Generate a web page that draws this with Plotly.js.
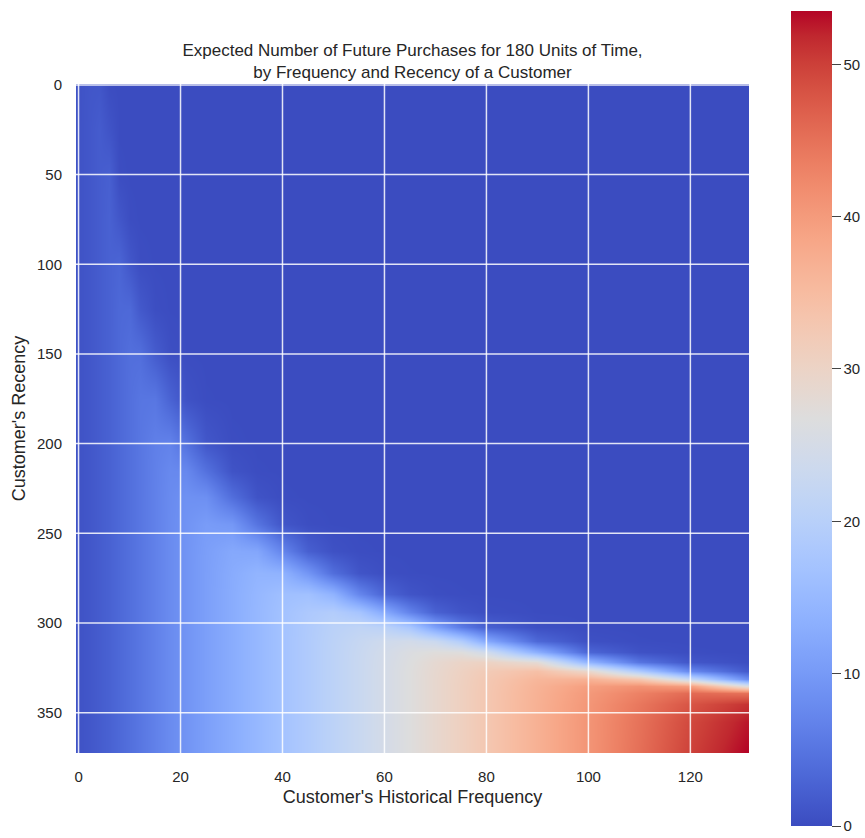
<!DOCTYPE html>
<html><head><meta charset="utf-8">
<script src="https://cdn.plot.ly/plotly-3.0.1.min.js"></script>
<style>html,body{margin:0;padding:0;background:#fff}</style>
</head><body>
<div id="chart" style="width:865px;height:838px"></div>
<script>
// Customer's historical frequency (columns) and recency (rows)
const frequency = [0,2,4,6,8,10,12,15,18,21,25,30,35,40,45,50,55,60,65,70,75,80,90,100,110,120,131];
const recency = [0,25,50,75,100,125,150,175,200,215,230,245,260,272,284,294,302,310,316,322,327,331,335,339,345,355,372];

// Expected number of future purchases: one array per frequency, values along recency
const expectedByFrequency = [
  [0.8,0.8,0.8,0.8,0.8,0.8,0.8,0.8,0.8,0.8,0.8,0.8,0.8,0.8,0.8,0.8,0.8,0.8,0.8,0.8,0.8,0.8,0.8,0.8,0.8,0.8,0.8],
  [1.2,1.3,1.3,1.3,1.3,1.3,1.3,1.3,1.3,1.3,1.3,1.3,1.3,1.3,1.3,1.3,1.3,1.3,1.3,1.3,1.3,1.3,1.3,1.3,1.3,1.3,1.3],
  [1.25,1.87,1.9,1.9,1.9,1.9,1.9,1.9,1.9,1.9,1.9,1.9,1.9,1.9,1.9,1.9,1.9,1.9,1.9,1.9,1.9,1.9,1.9,1.9,1.9,1.9,1.9],
  [0.09,0.94,2.31,2.54,2.56,2.56,2.56,2.56,2.56,2.56,2.56,2.56,2.56,2.56,2.56,2.56,2.56,2.56,2.56,2.56,2.56,2.56,2.56,2.56,2.56,2.56,2.56],
  [0,0.02,0.16,1.28,2.99,3.37,3.4,3.4,3.4,3.4,3.4,3.4,3.4,3.4,3.4,3.4,3.4,3.4,3.4,3.4,3.4,3.4,3.4,3.4,3.4,3.4,3.4],
  [0,0,0.02,0.17,1.24,3.44,4.21,4.31,4.32,4.32,4.32,4.32,4.32,4.32,4.32,4.32,4.32,4.32,4.32,4.32,4.32,4.32,4.32,4.32,4.32,4.32,4.32],
  [0,0,0,0.02,0.2,1.5,4.15,5.07,5.19,5.2,5.2,5.2,5.2,5.2,5.2,5.2,5.2,5.2,5.2,5.2,5.2,5.2,5.2,5.2,5.2,5.2,5.2],
  [0,0,0,0,0.03,0.26,1.87,5.19,6.36,6.48,6.53,6.53,6.53,6.53,6.53,6.53,6.53,6.53,6.53,6.53,6.53,6.53,6.53,6.53,6.53,6.53,6.53],
  [0,0,0,0,0,0.03,0.36,2.71,6.78,7.67,7.92,8,8,8,8,8,8,8,8,8,8,8,8,8,8,8,8],
  [0,0,0,0,0,0,0.06,0.7,4.6,7.53,8.77,9.1,9.2,9.2,9.2,9.2,9.2,9.2,9.2,9.2,9.2,9.2,9.2,9.2,9.2,9.2,9.2],
  [0,0,0,0,0,0,0,0.09,1.29,4.51,8.54,10.3,10.7,10.8,10.8,10.8,10.8,10.8,10.8,10.8,10.8,10.8,10.8,10.8,10.8,10.8,10.8],
  [0,0,0,0,0,0,0,0,0.14,0.86,4.11,9.66,12.2,12.66,12.8,12.8,12.8,12.8,12.8,12.8,12.8,12.8,12.8,12.8,12.8,12.8,12.8],
  [0,0,0,0,0,0,0,0,0.01,0.11,0.86,4.93,11.84,14.13,14.67,14.8,14.8,14.8,14.8,14.8,14.8,14.8,14.8,14.8,14.8,14.8,14.8],
  [0,0,0,0,0,0,0,0,0,0.01,0.13,1.19,7.14,13.78,16.21,16.67,16.8,16.8,16.8,16.8,16.8,16.8,16.8,16.8,16.8,16.8,16.8],
  [0,0,0,0,0,0,0,0,0,0,0.02,0.22,2.29,9.4,16.5,18.3,18.7,18.8,18.8,18.8,18.8,18.8,18.8,18.8,18.8,18.8,18.8],
  [0,0,0,0,0,0,0,0,0,0,0,0.04,0.6,4.12,13.9,19.2,20.4,20.7,20.8,20.8,20.8,20.8,20.8,20.8,20.8,20.8,20.8],
  [0,0,0,0,0,0,0,0,0,0,0,0,0.12,1.05,7.32,17.2,21.3,22.4,22.7,22.8,22.8,22.8,22.8,22.8,22.8,22.8,22.8],
  [0,0,0,0,0,0,0,0,0,0,0,0,0.03,0.3,2.95,12.4,20.6,23.8,24.5,24.7,24.8,24.8,24.8,24.8,24.8,24.8,24.8],
  [0,0,0,0,0,0,0,0,0,0,0,0,0,0.08,0.99,6.76,17.6,24.5,26.2,26.6,26.8,26.8,26.8,26.8,26.8,26.8,26.8],
  [0,0,0,0,0,0,0,0,0,0,0,0,0,0.02,0.27,2.56,11.1,23.1,27.1,28.4,28.7,28.8,28.8,28.8,28.8,28.8,28.8],
  [0,0,0,0,0,0,0,0,0,0,0,0,0,0,0.09,0.98,5.79,19.1,26.9,29.8,30.5,30.7,30.8,30.8,30.8,30.8,30.8],
  [0,0,0,0,0,0,0,0,0,0,0,0,0,0,0.02,0.32,2.36,12.3,24.2,30.4,32.1,32.6,32.7,32.8,32.8,32.8,32.8],
  [0,0,0,0,0,0,0,0,0,0,0,0,0,0,0,0.04,0.38,3.39,13.3,27.9,34.2,35.9,36.5,36.7,36.8,36.8,36.8],
  [0,0,0,0,0,0,0,0,0,0,0,0,0,0,0,0,0.04,0.51,3.1,14.2,29.3,36.7,39.5,40.2,40.6,40.8,40.8],
  [0,0,0,0,0,0,0,0,0,0,0,0,0,0,0,0,0,0.09,0.7,5.0,18.6,33.0,41.1,43.2,44.3,44.9,45.2],
  [0,0,0,0,0,0,0,0,0,0,0,0,0,0,0,0,0,0,0.13,1.24,7.5,22.5,39.5,45.8,48.0,49.2,49.8],
  [0,0,0,0,0,0,0,0,0,0,0,0,0,0,0,0,0,0,0,0.24,1.8,8.5,26.8,45.0,51.0,52.6,53.5]
];

const xTicks = [0,20,40,60,80,100,120];
const yTicks = [0,50,100,150,200,250,300,350];
const colorbarTicks = [0,10,20,30,40,50];

// matplotlib "coolwarm" stops
const coolwarmRGB = [
  [59,76,192],[68,90,204],[77,104,215],[87,117,225],[98,130,234],[108,142,241],[119,154,247],[130,165,251],
  [141,176,254],[152,185,255],[163,194,255],[174,201,253],[184,208,249],[194,213,244],[204,217,238],[213,219,230],
  [221,221,221],[229,216,209],[236,211,197],[241,204,185],[245,196,173],[247,187,160],[247,177,148],[247,166,135],
  [244,154,123],[241,141,111],[236,127,99],[229,112,88],[222,96,77],[213,80,66],[203,62,56],[192,40,47],[180,4,38]
];
const colorscale = coolwarmRGB.map((c, i) => [i / (coolwarmRGB.length - 1), `rgb(${c[0]},${c[1]},${c[2]})`]);

const FONT = 'Liberation Sans, Arial, Helvetica, sans-serif';
const INK = '#262626';

const trace = {
  type: 'heatmap',
  x: frequency,
  y: recency,
  z: expectedByFrequency,
  transpose: true,
  zsmooth: 'best',
  colorscale: colorscale,
  zmin: 0,
  zmax: 53.5,
  hoverinfo: 'x+y+z',
  colorbar: {
    xref: 'paper', x: (791 - 76) / 673, xanchor: 'left',
    yref: 'paper', y: 0.5, yanchor: 'middle',
    thicknessmode: 'pixels', thickness: 41,
    lenmode: 'pixels', len: 815,
    xpad: 0, ypad: 0,
    outlinewidth: 0,
    tickvals: colorbarTicks,
    ticks: 'outside', ticklen: 9, tickwidth: 1, tickcolor: '#444444',
    tickfont: {family: FONT, size: 15, color: INK}
  }
};

const gridStyle = {color: 'rgba(255,255,255,0.85)', width: 1.5};
const shapes = [];
xTicks.forEach(v => shapes.push({type: 'line', layer: 'above', xref: 'x', yref: 'paper', x0: v, x1: v, y0: 0, y1: 1, line: gridStyle}));
yTicks.forEach(v => shapes.push({type: 'line', layer: 'above', xref: 'paper', yref: 'y', x0: 0, x1: 1, y0: v, y1: v, line: gridStyle}));

const layout = {
  width: 865, height: 838,
  margin: {l: 76, r: 116, t: 84, b: 85, pad: 0, autoexpand: false},
  paper_bgcolor: '#ffffff',
  plot_bgcolor: '#ffffff',
  font: {family: FONT, color: INK},
  title: {
    text: 'Expected Number of Future Purchases for 180 Units of Time,<br>by Frequency and Recency of a Customer',
    font: {family: FONT, size: 17, color: INK},
    x: 0.5, xref: 'paper', xanchor: 'center',
    y: 1, yref: 'paper', yanchor: 'bottom',
    pad: {b: 28}
  },
  xaxis: {
    range: [-0.5, 131.5],
    tickvals: xTicks,
    ticks: 'outside', ticklen: 10, tickcolor: 'rgba(0,0,0,0)',
    showgrid: false, zeroline: false, showline: false,
    tickfont: {family: FONT, size: 15, color: INK},
    title: {text: "Customer's Historical Frequency", font: {family: FONT, size: 18, color: INK}, standoff: 6}
  },
  yaxis: {
    range: [372.5, -0.5],
    tickvals: yTicks,
    ticks: 'outside', ticklen: 10, tickcolor: 'rgba(0,0,0,0)',
    showgrid: false, zeroline: false, showline: false,
    tickfont: {family: FONT, size: 15, color: INK},
    title: {text: "Customer's Recency", font: {family: FONT, size: 18, color: INK}, standoff: 6}
  },
  shapes: shapes
};

Plotly.newPlot('chart', [trace], layout, {displayModeBar: false, responsive: false});
</script>
</body></html>
